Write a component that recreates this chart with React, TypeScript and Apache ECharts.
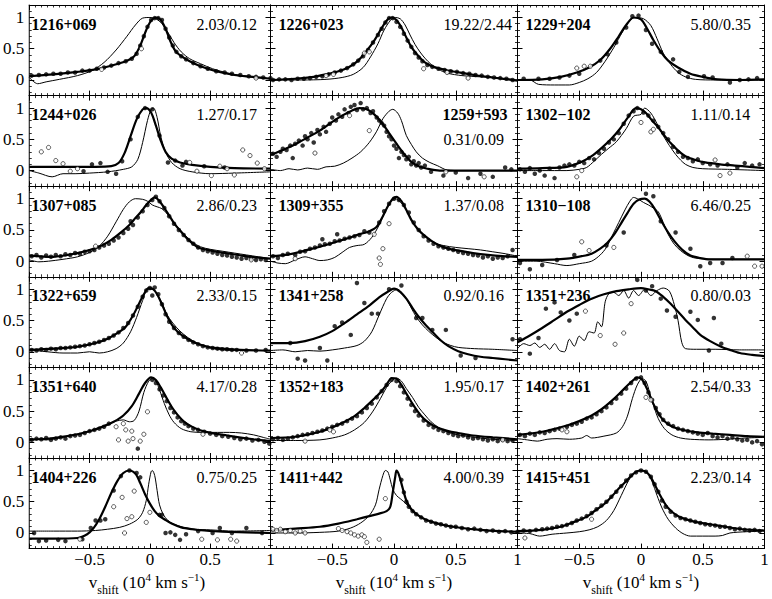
import React, { useEffect, useRef } from "react";
import * as echarts from "echarts";

// ---------- panel labels ----------
const names = ["1216+069", "1226+023", "1229+204", "1244+026", "1259+593", "1302\u2212102",
  "1307+085", "1309+355", "1310\u2212108", "1322+659", "1341+258", "1351+236",
  "1351+640", "1352+183", "1402+261", "1404+226", "1411+442", "1415+451"];
const ratios = ["2.03/0.12", "19.22/2.44", "5.80/0.35", "1.27/0.17", "0.31/0.09", "1.11/0.14",
  "2.86/0.23", "1.37/0.08", "6.46/0.25", "2.33/0.15", "0.92/0.16", "0.80/0.03",
  "4.17/0.28", "1.95/0.17", "2.54/0.33", "0.75/0.25", "4.00/0.39", "2.23/0.14"];

const xTicks = [-1, -0.5, 0, 0.5, 1];
const yMajor = [0, 0.5, 1];
const yMinor = [-0.2, -0.1, 0.1, 0.2, 0.3, 0.4, 0.6, 0.7, 0.8, 0.9, 1.1];
const titleParts = [["v", "m"], ["shift", "s"], [" (10", "m"], ["4", "p"], [" km s", "m"], ["\u22121", "p"], [")", "m"]];

// ---------- 1216+069 ----------
const p1Thick = [[-1,0.06],[-0.8,0.09],[-0.6,0.13],[-0.45,0.17],[-0.3,0.24],[-0.2,0.3],[-0.13,0.38],[-0.08,0.55],[-0.03,0.8],[0.01,0.95],[0.05,1.0],[0.09,0.96],[0.13,0.82],[0.17,0.62],[0.21,0.47],[0.26,0.38],[0.33,0.3],[0.42,0.22],[0.55,0.14],[0.7,0.08],[0.85,0.05],[1,0.02]];
const p1Thin = [[-1,0.04],[-0.93,-0.06],[-0.86,-0.03],[-0.75,0.01],[-0.6,0.07],[-0.48,0.15],[-0.38,0.28],[-0.28,0.48],[-0.19,0.7],[-0.12,0.88],[-0.06,0.99],[0.0,1.0],[0.05,0.98],[0.1,0.9],[0.15,0.76],[0.2,0.6],[0.26,0.45],[0.33,0.34],[0.42,0.26],[0.52,0.18],[0.65,0.11],[0.8,0.06],[1,0.02]];
const p1Dots = [[-0.98,0.07],[-0.92,0.08],[-0.86,0.09],[-0.8,0.1],[-0.74,0.1],[-0.68,0.12],[-0.62,0.12],[-0.56,0.15],[-0.5,0.15],[-0.44,0.18],[-0.38,0.2],[-0.32,0.23],[-0.26,0.27],[-0.2,0.3],[-0.15,0.34],[-0.11,0.42],[-0.08,0.55],[-0.05,0.7],[-0.02,0.85],[0.01,0.96],[0.04,0.99],[0.07,0.99],[0.1,0.96],[0.13,0.82],[0.16,0.68],[0.19,0.55],[0.22,0.45],[0.26,0.38],[0.3,0.33],[0.36,0.27],[0.42,0.22],[0.48,0.18],[0.55,0.14],[0.62,0.12],[0.68,0.1],[0.75,0.08],[0.82,0.06],[0.88,0.05],[0.94,0.04],[1.0,0.03]];
const p1Open = [[-0.4,0.17],[-0.07,0.5],[0.88,0.03]];

// ---------- 1226+023 ----------
const p2Thick = [[-1,0.0],[-0.8,0.02],[-0.65,0.05],[-0.55,0.09],[-0.45,0.14],[-0.37,0.2],[-0.29,0.31],[-0.22,0.47],[-0.16,0.63],[-0.1,0.83],[-0.05,0.97],[-0.02,1.0],[0.02,0.96],[0.06,0.84],[0.1,0.68],[0.14,0.53],[0.19,0.4],[0.25,0.28],[0.32,0.21],[0.42,0.16],[0.53,0.12],[0.65,0.08],[0.8,0.04],[1,-0.01]];
const p2Thin = [[-1,0.0],[-0.75,0.0],[-0.55,0.01],[-0.42,0.04],[-0.33,0.09],[-0.25,0.2],[-0.19,0.37],[-0.13,0.58],[-0.08,0.8],[-0.03,0.95],[0.01,1.0],[0.05,0.98],[0.09,0.88],[0.13,0.72],[0.17,0.57],[0.21,0.45],[0.25,0.35],[0.3,0.25],[0.36,0.17],[0.43,0.11],[0.55,0.07],[0.7,0.05],[0.85,0.03],[1,0.0]];
const p2Dots = [[-0.98,0.0],[-0.93,0.01],[-0.88,0.01],[-0.83,0.0],[-0.78,0.02],[-0.73,0.02],[-0.68,0.03],[-0.63,0.05],[-0.58,0.06],[-0.53,0.09],[-0.48,0.12],[-0.43,0.15],[-0.38,0.19],[-0.33,0.25],[-0.29,0.31],[-0.25,0.38],[-0.21,0.48],[-0.17,0.6],[-0.13,0.72],[-0.1,0.82],[-0.07,0.92],[-0.04,0.99],[-0.01,0.99],[0.02,0.93],[0.05,0.85],[0.08,0.74],[0.11,0.63],[0.14,0.53],[0.17,0.43],[0.2,0.36],[0.23,0.3],[0.27,0.24],[0.31,0.21],[0.36,0.18],[0.41,0.16],[0.46,0.14],[0.51,0.13],[0.56,0.11],[0.61,0.1],[0.66,0.08],[0.71,0.07],[0.76,0.05],[0.81,0.04],[0.86,0.03],[0.91,0.02],[0.96,0.0]];
const p2Open = [[-0.55,0.07],[-0.49,0.09],[-0.24,0.43],[-0.2,0.45],[0.24,0.18],[0.43,0.12],[0.6,0.03]];

// ---------- 1229+204 ----------
const p3Thick = [[-1,0.0],[-0.8,0.01],[-0.65,0.05],[-0.52,0.12],[-0.42,0.2],[-0.33,0.32],[-0.25,0.5],[-0.18,0.7],[-0.12,0.88],[-0.06,1.0],[0.0,0.97],[0.05,0.82],[0.1,0.64],[0.16,0.45],[0.22,0.31],[0.3,0.2],[0.4,0.1],[0.5,0.05],[0.62,0.01],[0.8,0.0],[1,0.01]];
const p3Thin = [[-1,0.0],[-0.9,0.0],[-0.83,-0.07],[-0.7,-0.08],[-0.58,-0.08],[-0.5,-0.04],[-0.43,0.02],[-0.36,0.12],[-0.29,0.3],[-0.22,0.52],[-0.15,0.77],[-0.09,0.95],[-0.05,1.0],[0.02,0.98],[0.08,0.87],[0.13,0.66],[0.18,0.43],[0.24,0.25],[0.3,0.12],[0.36,0.05],[0.44,0.01],[0.6,0.0],[1,0.0]];
const p3Dots = [[-0.95,0.02],[-0.83,0.02],[-0.74,0.02],[-0.66,0.04],[-0.58,0.07],[-0.5,0.1],[-0.33,0.31],[-0.27,0.41],[-0.2,0.6],[-0.12,0.84],[-0.07,1.02],[-0.02,1.03],[0.04,0.8],[0.09,0.58],[0.16,0.45],[0.26,0.33],[0.31,0.13],[0.38,0.05],[0.51,0.06],[0.58,0.04],[0.72,-0.04],[0.8,0.0],[0.87,0.01],[0.94,0.03]];
const p3Open = [[-0.52,0.19],[-0.46,0.22],[-0.41,0.22]];

// ---------- 1244+026 ----------
const p4Thick = [[-1,0.06],[-0.7,0.06],[-0.45,0.06],[-0.32,0.07],[-0.26,0.12],[-0.21,0.28],[-0.16,0.55],[-0.11,0.82],[-0.06,0.98],[-0.03,1.0],[0.01,0.93],[0.05,0.72],[0.09,0.48],[0.13,0.3],[0.18,0.19],[0.25,0.13],[0.35,0.09],[0.5,0.06],[0.7,0.04],[1,0.03]];
const p4Thin = [[-1,0.0],[-0.92,-0.04],[-0.81,-0.1],[-0.72,-0.05],[-0.62,-0.05],[-0.5,-0.04],[-0.35,-0.02],[-0.22,0.02],[-0.15,0.06],[-0.1,0.18],[-0.06,0.45],[-0.02,0.8],[0.01,0.98],[0.03,1.0],[0.06,0.85],[0.09,0.55],[0.13,0.3],[0.18,0.13],[0.25,0.03],[0.35,-0.02],[0.5,-0.05],[0.7,-0.04],[1,-0.02]];
const p4Dots = [[-0.55,-0.01],[-0.48,0.1],[-0.41,0.12],[-0.35,-0.02],[-0.28,-0.05],[-0.23,0.15],[-0.16,0.5],[-0.1,0.86],[-0.04,1.0],[0.02,0.98],[0.08,0.56],[0.15,0.13],[0.21,0.16],[0.27,0.08],[0.3,0.14],[0.45,0.07],[0.62,0.05]];
const p4Open = [[-0.9,0.3],[-0.84,0.37],[-0.78,0.16],[-0.72,0.11],[-0.66,-0.01],[-0.6,0.03],[0.33,0.13],[0.39,-0.01],[0.51,-0.08],[0.58,0.07],[0.64,0.03],[0.7,-0.07],[0.77,0.33],[0.83,0.24],[0.89,0.12],[0.95,0.03]];

// ---------- 1259+593 ----------
const p5Thick = [[-1,0.25],[-0.9,0.33],[-0.8,0.42],[-0.7,0.53],[-0.6,0.64],[-0.5,0.78],[-0.42,0.88],[-0.35,0.95],[-0.28,1.0],[-0.22,0.98],[-0.16,0.9],[-0.1,0.77],[-0.04,0.6],[0.02,0.43],[0.08,0.27],[0.14,0.14],[0.2,0.07],[0.27,0.03],[0.37,0.0],[0.5,0.0],[0.75,0.0],[1,0.0]];
const p5Thin = [[-1,0.02],[-0.92,0.0],[-0.85,0.03],[-0.78,0.01],[-0.7,0.04],[-0.62,0.02],[-0.55,0.06],[-0.48,0.07],[-0.41,0.12],[-0.34,0.2],[-0.27,0.3],[-0.2,0.45],[-0.14,0.63],[-0.09,0.83],[-0.04,0.95],[-0.01,0.98],[0.03,0.92],[0.06,0.8],[0.1,0.56],[0.14,0.42],[0.18,0.3],[0.23,0.2],[0.29,0.13],[0.35,0.08],[0.43,0.01],[0.55,0.0],[1,0.0]];
const p5Dots = [[-0.98,0.27],[-0.95,0.22],[-0.92,0.3],[-0.9,0.35],[-0.87,0.33],[-0.84,0.4],[-0.82,0.2],[-0.8,0.43],[-0.77,0.48],[-0.74,0.4],[-0.72,0.55],[-0.7,0.5],[-0.67,0.6],[-0.65,0.45],[-0.62,0.65],[-0.6,0.58],[-0.57,0.7],[-0.55,0.62],[-0.52,0.75],[-0.5,0.85],[-0.47,0.8],[-0.45,0.9],[-0.42,0.86],[-0.4,0.98],[-0.37,0.92],[-0.35,1.02],[-0.32,1.05],[-0.3,0.97],[-0.27,1.08],[-0.25,0.98],[-0.22,1.0],[-0.19,0.92],[-0.17,0.95],[-0.14,0.85],[-0.12,0.8],[-0.1,0.76],[-0.08,0.72],[-0.06,0.62],[-0.04,0.55],[-0.02,0.5],[0.0,0.4],[0.02,0.35],[0.04,0.2],[0.06,0.3],[0.08,0.25],[0.1,0.18],[0.12,0.22],[0.14,0.1],[0.16,0.15],[0.18,0.08],[0.2,0.12],[0.22,0.05],[0.25,0.08],[0.3,-0.02],[0.4,-0.08],[0.5,-0.03],[0.6,-0.12],[0.7,-0.05],[0.8,-0.1],[0.9,0.05],[0.95,0.02]];
const p5Open = [[-0.64,0.28],[-0.36,0.88],[-0.2,0.64],[0.42,-0.02],[0.73,-0.1]];

// ---------- 1302-102 ----------
const p6Thick = [[-1,0.03],[-0.8,0.04],[-0.6,0.06],[-0.48,0.14],[-0.4,0.23],[-0.32,0.36],[-0.24,0.51],[-0.17,0.67],[-0.11,0.84],[-0.04,1.0],[0.0,0.98],[0.04,0.92],[0.09,0.8],[0.14,0.69],[0.19,0.56],[0.24,0.44],[0.3,0.32],[0.36,0.23],[0.44,0.17],[0.52,0.13],[0.64,0.1],[0.76,0.08],[0.88,0.06],[1,0.04]];
const p6Thin = [[-1,0.0],[-0.8,0.0],[-0.6,0.0],[-0.5,0.02],[-0.44,0.05],[-0.38,0.15],[-0.32,0.26],[-0.26,0.36],[-0.2,0.46],[-0.12,0.67],[-0.06,0.87],[0.0,0.9],[0.03,1.0],[0.08,0.92],[0.13,0.75],[0.18,0.56],[0.23,0.4],[0.28,0.26],[0.32,0.17],[0.36,0.1],[0.42,0.05],[0.5,0.03],[0.7,0.02],[1,0.0]];
const p6Dots = [[-0.98,0.02],[-0.94,-0.02],[-0.9,0.04],[-0.86,-0.05],[-0.82,0.0],[-0.78,-0.08],[-0.74,0.03],[-0.7,-0.12],[-0.66,0.05],[-0.62,0.08],[-0.58,0.1],[-0.54,0.08],[-0.5,0.14],[-0.46,0.12],[-0.42,0.2],[-0.38,0.18],[-0.34,0.28],[-0.3,0.35],[-0.26,0.45],[-0.22,0.5],[-0.18,0.6],[-0.14,0.75],[-0.1,0.88],[-0.06,0.95],[-0.03,1.0],[0.02,0.93],[0.06,0.88],[0.1,0.8],[0.14,0.7],[0.18,0.6],[0.22,0.5],[0.26,0.38],[0.3,0.3],[0.34,0.22],[0.38,0.2],[0.42,0.15],[0.46,0.18],[0.5,0.12],[0.56,0.1],[0.62,0.08],[0.7,0.1],[0.78,0.05],[0.84,0.12],[0.9,0.08],[0.96,0.1]];
const p6Open = [[0.0,0.77],[0.08,0.62],[0.1,0.66],[-0.52,-0.1],[-0.48,0.0],[0.6,0.17],[0.64,-0.08],[0.72,-0.04]];

// ---------- 1307+085 ----------
const p7Thick = [[-1,0.09],[-0.8,0.07],[-0.6,0.13],[-0.5,0.18],[-0.4,0.25],[-0.32,0.34],[-0.24,0.46],[-0.17,0.58],[-0.12,0.69],[-0.07,0.8],[-0.03,0.9],[0.01,0.98],[0.04,1.02],[0.08,0.96],[0.12,0.85],[0.16,0.73],[0.2,0.61],[0.25,0.49],[0.3,0.38],[0.35,0.29],[0.4,0.22],[0.48,0.18],[0.56,0.15],[0.66,0.12],[0.76,0.09],[0.88,0.06],[1,0.04]];
const p7Thin = [[-1,0.02],[-0.92,-0.01],[-0.84,0.0],[-0.72,0.03],[-0.6,0.07],[-0.5,0.14],[-0.42,0.24],[-0.35,0.4],[-0.28,0.63],[-0.22,0.83],[-0.17,0.95],[-0.12,1.0],[-0.06,0.99],[-0.02,0.96],[0.02,0.9],[0.06,0.87],[0.1,0.84],[0.16,0.72],[0.22,0.57],[0.28,0.44],[0.35,0.31],[0.42,0.23],[0.5,0.19],[0.6,0.16],[0.7,0.13],[0.8,0.1],[0.9,0.07],[1,0.04]];
const p7Dots = [[-0.98,0.08],[-0.94,0.1],[-0.9,0.06],[-0.86,0.09],[-0.82,0.07],[-0.78,0.1],[-0.74,0.08],[-0.7,0.11],[-0.66,0.1],[-0.62,0.13],[-0.58,0.12],[-0.54,0.15],[-0.5,0.16],[-0.46,0.18],[-0.42,0.22],[-0.38,0.25],[-0.34,0.28],[-0.3,0.33],[-0.26,0.38],[-0.22,0.45],[-0.18,0.52],[-0.16,0.64],[-0.14,0.58],[-0.1,0.7],[-0.06,0.8],[-0.02,0.9],[0.02,0.98],[0.05,1.03],[0.08,0.96],[0.12,0.85],[0.16,0.72],[0.2,0.6],[0.24,0.5],[0.28,0.42],[0.32,0.34],[0.36,0.28],[0.4,0.22],[0.44,0.18],[0.48,0.16],[0.52,0.14],[0.56,0.12],[0.6,0.1],[0.64,0.09],[0.68,0.07],[0.72,0.06],[0.76,0.04],[0.8,0.05],[0.84,0.03],[0.88,0.02],[0.92,0.03],[0.96,0.02]];
const p7Open = [[0.84,0.02],[-0.45,0.24]];

// ---------- 1309+355 ----------
const p8Thick = [[-1,0.08],[-0.85,0.11],[-0.7,0.18],[-0.55,0.26],[-0.4,0.35],[-0.28,0.43],[-0.2,0.48],[-0.14,0.55],[-0.09,0.72],[-0.05,0.88],[-0.01,1.0],[0.02,1.03],[0.06,0.96],[0.1,0.82],[0.14,0.66],[0.19,0.52],[0.24,0.42],[0.3,0.33],[0.36,0.26],[0.44,0.2],[0.52,0.17],[0.64,0.13],[0.76,0.1],[0.88,0.08],[1,0.07]];
const p8Thin = [[-1,0.0],[-0.94,-0.03],[-0.88,-0.04],[-0.8,0.02],[-0.72,0.07],[-0.66,0.04],[-0.6,0.01],[-0.54,0.02],[-0.48,0.06],[-0.42,0.14],[-0.36,0.22],[-0.3,0.25],[-0.24,0.27],[-0.18,0.38],[-0.12,0.58],[-0.07,0.8],[-0.02,0.97],[0.01,1.0],[0.05,0.95],[0.09,0.85],[0.14,0.68],[0.19,0.52],[0.25,0.4],[0.32,0.3],[0.4,0.25],[0.5,0.22],[0.6,0.2],[0.7,0.18],[0.8,0.15],[0.9,0.12],[1,0.08]];
const p8Dots = [[-0.98,0.08],[-0.94,0.05],[-0.9,0.1],[-0.86,0.12],[-0.8,0.1],[-0.76,0.15],[-0.72,0.16],[-0.68,0.2],[-0.64,0.22],[-0.6,0.25],[-0.58,0.35],[-0.56,0.27],[-0.52,0.28],[-0.48,0.32],[-0.46,0.43],[-0.44,0.33],[-0.4,0.36],[-0.36,0.38],[-0.32,0.4],[-0.28,0.42],[-0.24,0.48],[-0.2,0.46],[-0.12,0.62],[-0.08,0.8],[-0.04,0.92],[0.0,1.0],[0.04,0.98],[0.08,0.9],[0.12,0.78],[0.16,0.62],[0.2,0.5],[0.24,0.4],[0.28,0.33],[0.32,0.28],[0.36,0.24],[0.4,0.22],[0.44,0.2],[0.48,0.18],[0.52,0.15],[0.56,0.13],[0.6,0.12],[0.64,0.1],[0.68,0.09],[0.72,0.06],[0.76,0.08],[0.8,0.04],[0.84,0.06],[0.88,0.05],[0.92,0.08],[0.96,0.18]];
const p8Open = [[-0.8,0.04],[-0.16,0.43],[-0.04,0.6],[-0.09,0.2],[-0.12,0.05],[-0.11,-0.05]];

// ---------- 1310-108 ----------
const p9Thick = [[-1,0.02],[-0.8,0.02],[-0.6,0.04],[-0.48,0.08],[-0.4,0.12],[-0.33,0.2],[-0.27,0.3],[-0.21,0.45],[-0.16,0.61],[-0.11,0.77],[-0.06,0.92],[-0.01,0.99],[0.03,1.0],[0.07,0.95],[0.11,0.84],[0.16,0.66],[0.21,0.49],[0.27,0.32],[0.33,0.19],[0.4,0.09],[0.48,0.05],[0.56,0.03],[0.7,0.03],[1,0.03]];
const p9Thin = [[-1,0.0],[-0.85,0.0],[-0.7,-0.04],[-0.6,-0.07],[-0.5,-0.04],[-0.4,0.0],[-0.33,0.1],[-0.28,0.22],[-0.23,0.42],[-0.18,0.62],[-0.13,0.82],[-0.09,0.96],[-0.06,1.02],[-0.02,0.99],[0.02,0.94],[0.06,0.9],[0.1,0.85],[0.14,0.79],[0.18,0.62],[0.22,0.43],[0.27,0.27],[0.32,0.17],[0.38,0.09],[0.44,0.05],[0.6,0.03],[1,0.03]];
const p9Dots = [[-0.98,-0.03],[-0.9,-0.13],[-0.8,-0.06],[-0.68,0.02],[-0.54,0.1],[-0.28,0.25],[-0.14,0.46],[0.04,1.08],[0.1,1.04],[0.16,0.64],[0.28,0.46],[0.4,0.2],[0.48,-0.08],[0.56,-0.03],[0.66,-0.03],[0.74,0.05]];
const p9Open = [[-0.48,0.31],[-0.42,0.17],[-0.22,0.22],[0.86,0.08],[0.92,-0.08],[0.98,-0.08]];

// ---------- 1322+659 ----------
const p10Thick = [[-1,0.03],[-0.8,0.05],[-0.6,0.08],[-0.45,0.14],[-0.35,0.21],[-0.26,0.31],[-0.2,0.4],[-0.14,0.58],[-0.09,0.77],[-0.05,0.92],[-0.01,1.02],[0.03,1.0],[0.06,0.92],[0.1,0.76],[0.14,0.58],[0.18,0.44],[0.23,0.32],[0.3,0.22],[0.38,0.14],[0.48,0.08],[0.6,0.05],[0.75,0.03],[1,0.02]];
const p10Thin = [[-1,0.03],[-0.85,0.0],[-0.72,-0.02],[-0.6,-0.02],[-0.5,0.0],[-0.42,-0.02],[-0.35,0.0],[-0.28,0.05],[-0.22,0.14],[-0.16,0.32],[-0.11,0.55],[-0.06,0.82],[-0.02,1.0],[0.02,1.0],[0.06,0.92],[0.1,0.78],[0.14,0.6],[0.19,0.46],[0.25,0.33],[0.32,0.22],[0.4,0.13],[0.48,0.07],[0.6,0.03],[0.8,0.02],[1,0.02]];
const p10Dots = [[-0.98,0.03],[-0.94,0.02],[-0.9,0.04],[-0.86,0.03],[-0.82,0.05],[-0.78,0.04],[-0.74,0.06],[-0.7,0.06],[-0.66,0.07],[-0.62,0.08],[-0.58,0.09],[-0.54,0.1],[-0.5,0.12],[-0.46,0.14],[-0.42,0.16],[-0.38,0.19],[-0.34,0.22],[-0.3,0.26],[-0.26,0.31],[-0.22,0.38],[-0.18,0.46],[-0.14,0.58],[-0.1,0.72],[-0.06,0.88],[-0.03,0.98],[0.0,1.02],[0.02,0.9],[0.04,1.03],[0.07,0.92],[0.1,0.76],[0.13,0.6],[0.16,0.48],[0.2,0.38],[0.24,0.3],[0.28,0.24],[0.32,0.19],[0.36,0.15],[0.4,0.12],[0.44,0.09],[0.48,0.07],[0.52,0.06],[0.56,0.05],[0.6,0.04],[0.64,0.04],[0.68,0.03],[0.72,0.03],[0.8,0.02],[0.88,0.02],[0.96,0.03]];
const p10Open = [[0.76,-0.02]];

// ---------- 1341+258 ----------
const p11Thick = [[-1,0.14],[-0.85,0.14],[-0.72,0.17],[-0.6,0.24],[-0.5,0.33],[-0.4,0.46],[-0.3,0.6],[-0.2,0.74],[-0.12,0.87],[-0.05,0.96],[0.0,1.01],[0.05,0.96],[0.1,0.85],[0.15,0.7],[0.2,0.56],[0.26,0.42],[0.32,0.3],[0.38,0.18],[0.44,0.09],[0.52,0.01],[0.6,-0.04],[0.7,-0.08],[0.8,-0.1],[0.9,-0.12],[1,-0.14]];
const p11Thin = [[-1,0.02],[-0.9,0.03],[-0.8,0.0],[-0.7,0.02],[-0.6,0.01],[-0.5,0.03],[-0.4,0.06],[-0.3,0.1],[-0.24,0.17],[-0.18,0.32],[-0.12,0.59],[-0.06,0.85],[-0.02,0.95],[0.03,1.0],[0.07,0.93],[0.1,0.85],[0.14,0.7],[0.18,0.56],[0.23,0.43],[0.28,0.33],[0.34,0.23],[0.4,0.15],[0.46,0.1],[0.52,0.07],[0.65,0.05],[0.8,0.04],[1,0.02]];
const p11Dots = [[-0.84,0.14],[-0.78,-0.11],[-0.72,-0.14],[-0.6,0.06],[-0.54,-0.14],[-0.48,0.41],[-0.42,0.47],[-0.35,0.27],[-0.3,1.1],[-0.24,0.78],[-0.18,0.61],[-0.13,0.61],[-0.04,1.0],[0.06,1.06],[0.18,0.54],[0.23,0.54],[0.31,0.35],[0.42,0.35],[0.54,-0.06],[0.66,-0.1],[0.96,0.2]];
const p11Open = [];

// ---------- 1351+236 ----------
const p12Thick = [[-1,0.15],[-0.9,0.26],[-0.8,0.38],[-0.7,0.51],[-0.6,0.64],[-0.5,0.75],[-0.4,0.85],[-0.3,0.92],[-0.2,0.97],[-0.1,1.0],[0.0,1.02],[0.06,1.0],[0.12,0.97],[0.18,0.88],[0.24,0.77],[0.3,0.64],[0.36,0.51],[0.42,0.39],[0.48,0.27],[0.56,0.17],[0.64,0.09],[0.72,0.03],[0.8,-0.02],[0.9,-0.05],[1,-0.07]];
const p12Thin = [[-1,0.05],[-0.95,0.13],[-0.9,0.1],[-0.86,0.14],[-0.82,0.07],[-0.78,0.12],[-0.74,0.04],[-0.7,0.13],[-0.66,0.02],[-0.62,0.0],[-0.58,0.2],[-0.54,0.09],[-0.5,0.25],[-0.46,0.18],[-0.42,0.32],[-0.38,0.3],[-0.35,0.48],[-0.32,0.4],[-0.29,0.8],[-0.26,0.93],[-0.22,0.95],[-0.18,0.9],[-0.14,0.98],[-0.1,0.86],[-0.06,0.98],[-0.02,0.9],[0.03,1.0],[0.08,0.9],[0.13,0.98],[0.18,1.02],[0.23,0.97],[0.27,0.75],[0.3,0.5],[0.33,0.15],[0.36,0.05],[0.45,0.04],[0.6,0.04],[0.8,0.03],[1,0.03]];
const p12Dots = [[-0.98,0.2],[-0.9,-0.03],[-0.83,0.22],[-0.77,0.69],[-0.7,0.79],[-0.65,0.63],[-0.58,0.5],[-0.52,0.61],[-0.03,1.15],[0.04,0.98],[0.09,1.05],[0.16,0.85],[0.21,0.66],[0.28,0.56],[0.4,0.64],[0.46,0.51],[0.55,0.02],[0.59,0.54],[0.65,0.13]];
const p12Open = [[-0.45,0.65],[-0.33,0.26],[-0.21,0.12],[-0.14,0.3],[-0.08,0.77]];

// ---------- 1351+640 ----------
const p13Thick = [[-1,0.04],[-0.8,0.07],[-0.6,0.13],[-0.48,0.19],[-0.38,0.26],[-0.3,0.33],[-0.22,0.43],[-0.15,0.58],[-0.09,0.78],[-0.04,0.95],[0.01,1.04],[0.05,1.0],[0.09,0.88],[0.13,0.74],[0.18,0.57],[0.23,0.44],[0.29,0.32],[0.36,0.24],[0.44,0.18],[0.54,0.14],[0.64,0.11],[0.74,0.08],[0.86,0.05],[1,0.02]];
const p13Thin = [[-1,0.06],[-0.86,0.04],[-0.72,0.08],[-0.58,0.14],[-0.45,0.21],[-0.35,0.29],[-0.28,0.34],[-0.22,0.36],[-0.17,0.33],[-0.13,0.35],[-0.09,0.5],[-0.05,0.8],[-0.01,0.98],[0.02,1.02],[0.05,0.98],[0.08,0.84],[0.12,0.62],[0.16,0.44],[0.2,0.32],[0.26,0.22],[0.34,0.17],[0.44,0.16],[0.56,0.16],[0.66,0.16],[0.76,0.15],[0.86,0.12],[0.94,0.08],[1,0.05]];
const p13Dots = [[-0.98,0.04],[-0.94,0.06],[-0.9,0.05],[-0.86,0.07],[-0.82,0.04],[-0.78,0.06],[-0.74,0.08],[-0.7,0.06],[-0.66,0.1],[-0.62,0.11],[-0.58,0.12],[-0.54,0.15],[-0.5,0.18],[-0.46,0.2],[-0.42,0.22],[-0.38,0.25],[-0.34,0.3],[-0.1,-0.1],[0.02,1.0],[0.05,0.95],[0.08,0.85],[0.11,0.75],[0.14,0.66],[0.17,0.55],[0.2,0.48],[0.23,0.4],[0.26,0.34],[0.29,0.3],[0.32,0.26],[0.36,0.22],[0.4,0.2],[0.45,0.17],[0.5,0.14],[0.55,0.12],[0.6,0.1],[0.65,0.09],[0.7,0.07],[0.75,0.05],[0.8,0.06],[0.85,0.03],[0.9,0.04],[0.95,0.01],[0.99,-0.02]];
const p13Open = [[-0.28,0.25],[-0.22,0.3],[-0.2,0.2],[-0.26,0.04],[-0.18,0.02],[-0.14,0.06],[-0.08,0.02],[-0.15,0.18],[-0.05,0.13],[-0.02,0.49],[0.44,0.13]];

// ---------- 1352+183 ----------
const p14Thick = [[-1,0.07],[-0.8,0.09],[-0.6,0.17],[-0.5,0.24],[-0.4,0.33],[-0.32,0.42],[-0.24,0.55],[-0.17,0.68],[-0.11,0.8],[-0.06,0.92],[-0.02,1.03],[0.02,1.02],[0.06,0.92],[0.1,0.78],[0.14,0.65],[0.19,0.5],[0.24,0.38],[0.3,0.29],[0.36,0.23],[0.44,0.18],[0.52,0.15],[0.64,0.11],[0.8,0.08],[1,0.05]];
const p14Thin = [[-1,0.03],[-0.8,0.03],[-0.6,0.04],[-0.5,0.07],[-0.4,0.12],[-0.32,0.2],[-0.24,0.32],[-0.17,0.5],[-0.11,0.7],[-0.06,0.88],[-0.02,0.98],[0.02,1.03],[0.06,0.98],[0.1,0.86],[0.15,0.72],[0.2,0.56],[0.25,0.44],[0.3,0.33],[0.36,0.24],[0.44,0.16],[0.52,0.12],[0.62,0.09],[0.8,0.05],[1,0.03]];
const p14Dots = [[-0.98,0.05],[-0.94,0.07],[-0.9,0.04],[-0.86,0.06],[-0.82,0.08],[-0.78,0.1],[-0.74,0.12],[-0.7,0.13],[-0.66,0.15],[-0.62,0.17],[-0.58,0.19],[-0.54,0.22],[-0.5,0.25],[-0.46,0.28],[-0.42,0.3],[-0.38,0.34],[-0.34,0.38],[-0.3,0.42],[-0.26,0.48],[-0.22,0.55],[-0.18,0.62],[-0.14,0.72],[-0.1,0.82],[-0.06,0.92],[-0.02,1.0],[0.02,0.98],[0.05,0.9],[0.08,0.8],[0.11,0.7],[0.14,0.6],[0.17,0.5],[0.2,0.43],[0.24,0.35],[0.28,0.28],[0.32,0.24],[0.36,0.2],[0.4,0.18],[0.44,0.15],[0.48,0.12],[0.52,0.1],[0.56,0.11],[0.6,0.08],[0.64,0.06],[0.68,0.07],[0.72,0.05],[0.76,0.03],[0.8,0.05],[0.84,0.02],[0.88,0.04],[0.92,0.02],[0.96,0.03]];
const p14Open = [[-0.72,0.02],[-0.52,0.2],[-0.49,0.17],[0.88,0.04]];

// ---------- 1402+261 ----------
const p15Thick = [[-1,0.12],[-0.8,0.17],[-0.6,0.27],[-0.5,0.34],[-0.4,0.43],[-0.32,0.53],[-0.24,0.66],[-0.17,0.79],[-0.11,0.91],[-0.06,1.0],[-0.03,1.04],[0.01,1.0],[0.05,0.85],[0.09,0.66],[0.13,0.5],[0.17,0.38],[0.22,0.29],[0.28,0.23],[0.36,0.19],[0.46,0.16],[0.58,0.14],[0.72,0.12],[0.86,0.1],[1,0.09]];
const p15Thin = [[-1,0.06],[-0.92,0.04],[-0.84,0.02],[-0.76,0.05],[-0.68,0.06],[-0.58,0.05],[-0.48,0.07],[-0.44,0.11],[-0.4,0.07],[-0.3,0.1],[-0.2,0.15],[-0.15,0.25],[-0.11,0.42],[-0.07,0.7],[-0.03,0.92],[0.01,1.02],[0.04,0.98],[0.07,0.8],[0.1,0.6],[0.14,0.38],[0.19,0.22],[0.25,0.12],[0.32,0.07],[0.4,0.05],[0.55,0.04],[0.7,0.05],[0.85,0.07],[1,0.08]];
const p15Dots = [[-0.98,0.12],[-0.94,0.1],[-0.9,0.14],[-0.86,0.12],[-0.82,0.16],[-0.78,0.15],[-0.74,0.18],[-0.7,0.2],[-0.66,0.22],[-0.6,0.25],[-0.56,0.28],[-0.52,0.3],[-0.48,0.33],[-0.44,0.38],[-0.4,0.4],[-0.36,0.45],[-0.32,0.5],[-0.28,0.56],[-0.24,0.63],[-0.2,0.7],[-0.16,0.78],[-0.12,0.86],[-0.08,0.95],[-0.04,1.02],[0.0,1.04],[0.03,0.95],[0.06,0.8],[0.09,0.68],[0.12,0.55],[0.15,0.45],[0.18,0.36],[0.22,0.3],[0.26,0.26],[0.3,0.22],[0.34,0.2],[0.38,0.18],[0.42,0.16],[0.46,0.14],[0.5,0.12],[0.54,0.15],[0.58,0.1],[0.62,0.08],[0.66,0.1],[0.7,0.06],[0.74,0.08],[0.78,0.05],[0.82,0.03],[0.86,0.04],[0.9,0.0],[0.94,0.02],[0.98,-0.03]];
const p15Open = [[-0.64,0.2],[-0.6,0.17],[0.04,0.72],[0.08,0.68]];

// ---------- 1404+226 ----------
const p16Thick = [[-1,-0.09],[-0.8,-0.09],[-0.6,-0.08],[-0.52,-0.02],[-0.47,0.07],[-0.42,0.22],[-0.37,0.42],[-0.32,0.64],[-0.27,0.83],[-0.22,0.96],[-0.17,1.0],[-0.12,0.95],[-0.08,0.8],[-0.04,0.62],[0.0,0.47],[0.04,0.35],[0.08,0.27],[0.12,0.22],[0.18,0.15],[0.26,0.09],[0.35,0.06],[0.45,0.04],[0.6,0.02],[0.8,0.01],[1,0.0]];
const p16Thin = [[-1,0.03],[-0.8,0.03],[-0.6,0.03],[-0.45,0.04],[-0.35,0.06],[-0.25,0.09],[-0.17,0.14],[-0.1,0.22],[-0.06,0.33],[-0.03,0.52],[-0.01,0.78],[0.01,0.98],[0.02,1.0],[0.04,0.92],[0.06,0.68],[0.08,0.45],[0.11,0.3],[0.15,0.2],[0.2,0.14],[0.28,0.09],[0.38,0.06],[0.5,0.05],[0.7,0.03],[1,0.04]];
const p16Dots = [[-0.96,0.0],[-0.92,-0.13],[-0.86,-0.12],[-0.76,-0.11],[-0.7,-0.13],[-0.56,-0.1],[-0.49,0.08],[-0.45,0.2],[-0.41,0.2],[-0.37,0.22],[-0.3,0.68],[-0.24,0.91],[-0.17,1.0],[-0.11,0.96],[-0.08,0.89],[0.08,0.29],[0.1,0.29],[0.13,0.0],[0.17,0.01],[0.21,-0.03],[0.25,-0.11],[0.3,-0.02],[0.4,0.03],[0.52,0.0],[0.58,0.08],[0.68,0.0],[0.8,0.08],[0.93,0.0]];
const p16Open = [[-0.58,-0.1],[-0.3,0.42],[-0.23,0.57],[-0.21,0.0],[-0.19,0.23],[-0.15,0.26],[-0.13,0.67],[-0.03,0.17],[0.0,0.33],[0.43,-0.1],[0.56,-0.11],[0.67,-0.1],[0.72,-0.13]];

// ---------- 1411+442 ----------
const p17Thick = [[-1,0.04],[-0.8,0.07],[-0.6,0.1],[-0.45,0.15],[-0.3,0.22],[-0.2,0.27],[-0.12,0.31],[-0.06,0.35],[-0.03,0.42],[-0.01,0.65],[0.01,0.9],[0.02,1.0],[0.04,0.93],[0.07,0.72],[0.1,0.52],[0.14,0.38],[0.19,0.29],[0.25,0.22],[0.32,0.17],[0.42,0.12],[0.55,0.08],[0.7,0.05],[0.85,0.03],[1,0.02]];
const p17Thin = [[-1,0.0],[-0.8,0.0],[-0.6,0.01],[-0.45,0.03],[-0.35,0.08],[-0.27,0.16],[-0.2,0.28],[-0.15,0.45],[-0.12,0.7],[-0.09,0.92],[-0.07,1.0],[-0.05,0.98],[-0.03,0.85],[-0.01,0.7],[0.02,0.6],[0.05,0.55],[0.08,0.5],[0.11,0.44],[0.15,0.36],[0.2,0.28],[0.26,0.21],[0.33,0.16],[0.42,0.12],[0.55,0.08],[0.7,0.05],[0.85,0.03],[1,0.02]];
const p17Dots = [[0.06,0.85],[0.08,0.65],[0.1,0.5],[0.12,0.42],[0.15,0.35],[0.18,0.3],[0.22,0.25],[0.26,0.2],[0.3,0.18],[0.34,0.15],[0.38,0.14],[0.42,0.12],[0.46,0.1],[0.5,0.1],[0.55,0.08],[0.6,0.06],[0.65,0.07],[0.7,0.05],[0.75,0.03],[0.8,0.04],[0.85,0.02],[0.9,0.03],[0.95,0.01],[1.0,0.02]];
const p17Open = [[-0.98,0.06],[-0.95,0.04],[-0.92,0.06],[-0.88,0.02],[-0.84,0.04],[-0.8,0.0],[-0.76,0.03],[-0.72,0.0],[-0.45,0.07],[-0.42,0.04],[-0.38,0.02],[-0.35,0.0],[-0.32,-0.03],[-0.29,-0.05],[-0.26,-0.03],[-0.24,-0.06],[-0.22,-0.15],[-0.12,-0.1],[-0.07,0.55]];

// ---------- 1415+451 ----------
const p18Thick = [[-1,0.03],[-0.8,0.05],[-0.65,0.1],[-0.55,0.17],[-0.45,0.25],[-0.37,0.36],[-0.3,0.46],[-0.23,0.6],[-0.17,0.73],[-0.11,0.85],[-0.06,0.95],[-0.01,1.0],[0.03,0.99],[0.07,0.92],[0.11,0.78],[0.15,0.62],[0.2,0.45],[0.25,0.34],[0.31,0.26],[0.38,0.21],[0.46,0.17],[0.56,0.14],[0.68,0.1],[0.82,0.06],[1,0.04]];
const p18Thin = [[-1,0.0],[-0.9,-0.01],[-0.82,-0.05],[-0.72,-0.02],[-0.6,0.0],[-0.5,0.02],[-0.42,0.05],[-0.35,0.1],[-0.28,0.2],[-0.22,0.36],[-0.16,0.6],[-0.1,0.84],[-0.05,0.97],[0.0,1.0],[0.05,0.97],[0.09,0.82],[0.13,0.6],[0.17,0.4],[0.22,0.22],[0.28,0.08],[0.34,-0.01],[0.4,-0.05],[0.5,-0.05],[0.6,-0.05],[0.66,-0.04],[0.72,0.0],[0.85,0.02],[1,0.03]];
const p18Dots = [[-0.95,0.04],[-0.9,0.03],[-0.85,0.05],[-0.8,0.06],[-0.76,0.07],[-0.72,0.08],[-0.68,0.1],[-0.64,0.11],[-0.6,0.13],[-0.56,0.16],[-0.52,0.2],[-0.48,0.23],[-0.44,0.27],[-0.4,0.32],[-0.36,0.38],[-0.32,0.44],[-0.28,0.5],[-0.24,0.58],[-0.2,0.66],[-0.16,0.75],[-0.12,0.84],[-0.08,0.92],[-0.04,0.97],[0.0,1.0],[0.04,0.98],[0.08,0.9],[0.11,0.78],[0.14,0.66],[0.17,0.52],[0.2,0.42],[0.24,0.34],[0.28,0.28],[0.32,0.24],[0.36,0.22],[0.4,0.2],[0.44,0.18],[0.48,0.16],[0.52,0.14],[0.56,0.13],[0.6,0.12],[0.64,0.1],[0.68,0.1],[0.72,0.08],[0.76,0.06],[0.8,0.07],[0.84,0.05],[0.88,0.04],[0.92,0.05],[0.96,0.03]];
const p18Open = [[-0.94,-0.08],[-0.4,0.22]];

const thickLines = [p1Thick,p2Thick,p3Thick,p4Thick,p5Thick,p6Thick,p7Thick,p8Thick,p9Thick,p10Thick,p11Thick,p12Thick,p13Thick,p14Thick,p15Thick,p16Thick,p17Thick,p18Thick];
const thinLines = [p1Thin,p2Thin,p3Thin,p4Thin,p5Thin,p6Thin,p7Thin,p8Thin,p9Thin,p10Thin,p11Thin,p12Thin,p13Thin,p14Thin,p15Thin,p16Thin,p17Thin,p18Thin];
const filledDots = [p1Dots,p2Dots,p3Dots,p4Dots,p5Dots,p6Dots,p7Dots,p8Dots,p9Dots,p10Dots,p11Dots,p12Dots,p13Dots,p14Dots,p15Dots,p16Dots,p17Dots,p18Dots];
const openDots = [p1Open,p2Open,p3Open,p4Open,p5Open,p6Open,p7Open,p8Open,p9Open,p10Open,p11Open,p12Open,p13Open,p14Open,p15Open,p16Open,p17Open,p18Open];

const FONT = "Liberation Serif";
const LEFTS = [23.5, 270.5, 517.5];
const PW = 247;
const PH = 90.6;
const TOP = 5;

function fmtX(v: number) {
  if (v === -1) return "";
  if (v < 0) return "\u2212" + String(-v);
  return String(v);
}

function measure(text: string, size: number) {
  const cv = document.createElement("canvas");
  const ctx = cv.getContext("2d");
  if (!ctx) return text.length * size * 0.5;
  ctx.font = size + "px " + FONT;
  return ctx.measureText(text).width;
}

function buildOption() {
  const grid: any[] = [];
  const xAxis: any[] = [];
  const yAxis: any[] = [];
  const series: any[] = [];
  const graphic: any[] = [];
  const black = "#000";
  names.forEach((name, i) => {
    const r = Math.floor(i / 3);
    const c = i % 3;
    const left = LEFTS[c];
    const top = TOP + r * PH;
    grid.push({ left, top, width: PW, height: PH, containLabel: false });
    const xBase = {
      gridIndex: i, type: "value", min: xTicks[0], max: xTicks[xTicks.length - 1], interval: 0.5,
      splitLine: { show: false },
      axisLine: { show: true, onZero: false, lineStyle: { color: black, width: 1 } },
      axisTick: { show: true, inside: true, length: 5, lineStyle: { color: black, width: 1 } },
      minorTick: { show: true, splitNumber: 10, length: 2.5, lineStyle: { color: black, width: 0.8 } },
      minorSplitLine: { show: false },
    };
    xAxis.push({ ...xBase, position: "bottom",
      axisLabel: { show: r === 5, formatter: fmtX, fontSize: 17, fontFamily: FONT, color: black, margin: 2, lineHeight: 18 } });
    xAxis.push({ ...xBase, position: "top", axisLabel: { show: false } });
    const yBase = { gridIndex: i, type: "value", min: -0.25, max: 1.2, splitLine: { show: false } };
    const majorTick = { show: true, inside: true, length: 5, customValues: yMajor, lineStyle: { color: black, width: 1 } };
    const minorTickY = { show: true, inside: true, length: 2.5, customValues: yMinor, lineStyle: { color: black, width: 0.8 } };
    yAxis.push({ ...yBase, position: "left",
      axisLine: { show: true, onZero: false, lineStyle: { color: black, width: 1 } },
      axisTick: majorTick,
      axisLabel: { show: c === 0, customValues: yMajor, formatter: (v: number) => String(v), fontSize: 17, fontFamily: FONT, color: black, margin: 5 } });
    yAxis.push({ ...yBase, position: "right",
      axisLine: { show: true, onZero: false, lineStyle: { color: black, width: 1 } },
      axisTick: majorTick, axisLabel: { show: false } });
    yAxis.push({ ...yBase, position: "left", axisLine: { show: false, onZero: false }, axisTick: minorTickY, axisLabel: { show: false } });
    yAxis.push({ ...yBase, position: "right", axisLine: { show: false, onZero: false }, axisTick: minorTickY, axisLabel: { show: false } });

    const xi = 2 * i;
    const yi = 4 * i;
    series.push({ type: "line", xAxisIndex: xi, yAxisIndex: yi, data: thinLines[i], symbol: "none", smooth: 0.3,
      lineStyle: { color: black, width: 1 }, silent: true, z: 3, clip: true });
    series.push({ type: "line", xAxisIndex: xi, yAxisIndex: yi, data: thickLines[i], symbol: "none", smooth: 0.3,
      lineStyle: { color: black, width: 2.2 }, silent: true, z: 4, clip: true });
    series.push({ type: "scatter", xAxisIndex: xi, yAxisIndex: yi, data: filledDots[i], symbol: "circle", symbolSize: 4.5,
      itemStyle: { color: black }, silent: true, z: 5, clip: true });
    series.push({ type: "scatter", xAxisIndex: xi, yAxisIndex: yi, data: openDots[i], symbol: "circle", symbolSize: 4.2,
      itemStyle: { color: "#fff", borderColor: black, borderWidth: 0.8 }, silent: true, z: 5, clip: true });

    const special = i === 4;
    graphic.push({ type: "text", x: special ? left + 172 : left + 8, y: top + 19, z: 100,
      style: { text: name, fontSize: 16, fontWeight: "bold", fontFamily: FONT, fill: black, align: "left", verticalAlign: "middle" } });
    graphic.push({ type: "text", x: left + 173, y: special ? top + 43.5 : top + 19, z: 100,
      style: { text: ratios[i], fontSize: 16, fontFamily: FONT, fill: black, align: "left", verticalAlign: "middle" } });
  });

  // axis titles: v_shift (10^4 km s^-1), laid out token by token
  const sizes: Record<string, number> = { m: 17, s: 12, p: 11 };
  const ys: Record<string, number> = { m: 582, s: 589.5, p: 577 };
  const widths = titleParts.map(([t, k]) => measure(t, sizes[k]));
  const total = widths.reduce((a, b) => a + b, 0);
  for (let c = 0; c < 3; c++) {
    let x = LEFTS[c] + PW / 2 - total / 2;
    titleParts.forEach(([t, k], j) => {
      graphic.push({ type: "text", x, y: ys[k], z: 100,
        style: { text: t, fontSize: sizes[k], fontFamily: FONT, fill: black, align: "left", verticalAlign: "middle" } });
      x += widths[j];
    });
  }

  return { animation: false, backgroundColor: "#fff", grid, xAxis, yAxis, series, graphic };
}

export default function App() {
  const ref = useRef<HTMLDivElement>(null);
  useEffect(() => {
    if (!ref.current) return;
    const chart = echarts.init(ref.current, undefined, { renderer: "svg" });
    chart.setOption(buildOption() as any);
    return () => chart.dispose();
  }, []);
  return <div ref={ref} style={{ position: "absolute", left: 0, top: 0, width: 772, height: 599 }} />;
}
